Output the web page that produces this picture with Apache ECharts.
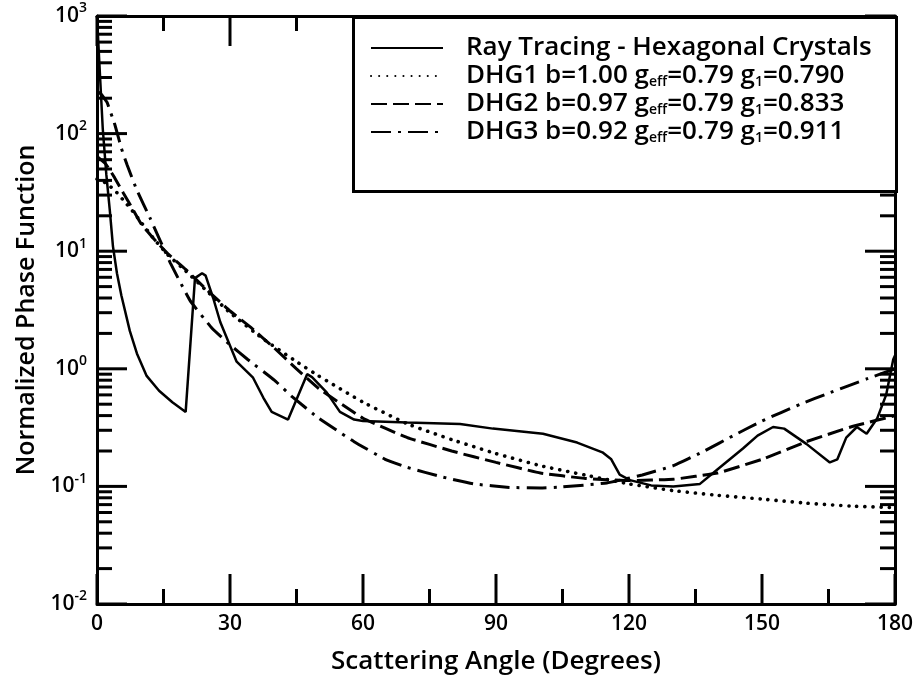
<!DOCTYPE html>
<html>
<head>
<meta charset="utf-8">
<script src="https://cdn.jsdelivr.net/npm/echarts@6/dist/echarts.min.js"></script>
<style>html,body{margin:0;padding:0;background:#fff}#c{width:917px;height:680px}</style>
</head>
<body>
<div id="c"></div>
<script>
// ---- data ----
const xMajorTicks = [0, 30, 60, 90, 120, 150, 180];
const xMinorTicks = [15, 45, 75, 105, 135, 165];
const yMajorTicks = [0.01, 0.1, 1, 10, 100, 1000];
const yMinorSteps = [2, 3, 4, 5, 6, 7, 8, 9];

const rtAngle = [0, 0.5, 1.3, 2.1, 2.9, 3.6, 4.5, 5.5, 7.4, 9, 11.2, 14, 17, 20, 22.1, 23.7, 24.5, 26.2, 27.8, 31.5, 35.2, 37.5, 39.4, 43.1, 47.4, 48.5, 51.8, 54.8, 58, 60, 70, 81.9, 89.3, 100.6, 108.3, 114, 116, 117.9, 120.2, 125, 130, 136, 140, 145.7, 149, 152.5, 155, 160, 165.3, 167, 169, 171.4, 173.6, 176, 178, 179.6, 180];
const rtValue = [1000, 420, 110, 45, 22, 11, 6.5, 4.2, 2.1, 1.35, 0.87, 0.65, 0.52, 0.43, 5.9, 6.5, 6.2, 4.0, 2.5, 1.15, 0.84, 0.57, 0.43, 0.37, 0.9, 0.85, 0.63, 0.43, 0.37, 0.36, 0.35, 0.34, 0.31, 0.28, 0.236, 0.195, 0.17, 0.126, 0.113, 0.102, 0.1, 0.105, 0.14, 0.21, 0.27, 0.32, 0.31, 0.23, 0.16, 0.17, 0.26, 0.32, 0.28, 0.38, 0.6, 1.2, 1.3];

const dhg1Angle = [0, 2, 4, 6, 8, 10, 13, 16, 20, 25, 30, 37, 45, 50, 60, 70, 80, 90, 100, 110, 120, 130, 140, 150, 160, 170, 180];
const dhg1Value = [41, 38, 33, 27, 22, 17.5, 12.5, 9.3, 6.8, 4.5, 3.0, 1.85, 1.15, 0.87, 0.52, 0.34, 0.25, 0.19, 0.15, 0.125, 0.105, 0.092, 0.084, 0.078, 0.072, 0.068, 0.066];

const dhg2Angle = [0, 2, 4, 6, 8, 10, 13, 16, 20, 25, 30, 35, 40, 45, 50, 60, 70, 80, 90, 100, 110, 120, 130, 140, 150, 160, 170, 180];
const dhg2Value = [64, 55, 42, 31, 23, 17, 12.5, 9.5, 7.0, 4.6, 3.1, 2.2, 1.5, 1.0, 0.68, 0.38, 0.26, 0.2, 0.16, 0.13, 0.117, 0.112, 0.115, 0.13, 0.17, 0.24, 0.32, 0.4];

const dhg3Angle = [0, 1, 2.25, 4, 5.5, 6.8, 9, 12, 16.5, 21, 26, 30, 34, 40, 44, 50, 58, 65, 70, 78, 85, 93, 100, 105, 115, 123, 130, 137, 143.5, 150, 158.6, 165, 173.6, 180];
const dhg3Value = [230, 215, 185, 120, 75, 54, 33, 19, 8, 3.8, 2.2, 1.6, 1.2, 0.8, 0.58, 0.38, 0.24, 0.17, 0.145, 0.12, 0.105, 0.098, 0.097, 0.099, 0.107, 0.125, 0.15, 0.2, 0.27, 0.36, 0.5, 0.62, 0.82, 1.0];

const seriesNames = [
  'Ray Tracing - Hexagonal Crystals',
  'DHG1 b=1.00 geff=0.79 g1=0.790',
  'DHG2 b=0.97 geff=0.79 g1=0.833',
  'DHG3 b=0.92 geff=0.79 g1=0.911'
];
const legendRich = [
  '{t|Ray Tracing - Hexagonal Crystals}',
  '{t|DHG1 b=1.00 g}{sub|eff}{t|=0.79 g}{sub|1}{t|=0.790}',
  '{t|DHG2 b=0.97 g}{sub|eff}{t|=0.79 g}{sub|1}{t|=0.833}',
  '{t|DHG3 b=0.92 g}{sub|eff}{t|=0.79 g}{sub|1}{t|=0.911}'
];

// ---- build ----
const zip = (a, b) => a.map((x, i) => [x, b[i]]);
const yMinorTicks = [];
yMajorTicks.slice(0, -1).forEach(d => yMinorSteps.forEach(k => yMinorTicks.push(k * d)));

const FONT = 'Open Sans';
const black = '#000';
const chart = echarts.init(document.getElementById('c'), null, { renderer: 'canvas' });

function tickLine(x1, y1, x2, y2) {
  return { type: 'line', shape: { x1, y1, x2, y2 }, style: { stroke: '#000000', lineWidth: 3 } };
}
function xTickRenderer(len) {
  return function (params, api) {
    const x = api.value(0);
    const b = api.coord([x, 0.01]);
    const t = api.coord([x, 1000]);
    return { type: 'group', children: [tickLine(b[0], b[1], b[0], b[1] - len), tickLine(t[0], t[1], t[0], t[1] + len)] };
  };
}
function yTickRenderer(len) {
  return function (params, api) {
    const y = api.value(1);
    const l = api.coord([0, y]);
    const r = api.coord([180, y]);
    return { type: 'group', children: [tickLine(l[0], l[1], l[0] + len, l[1]), tickLine(r[0], r[1], r[0] - len, r[1])] };
  };
}
const tickSeries = (data, renderItem) => ({
  type: 'custom', data, renderItem, xAxisIndex: 0, yAxisIndex: 0, zlevel: 1, z: 3, silent: true, clip: false
});

const axisLineStyle = { color: black, width: 3 };
const option = {
  backgroundColor: '#fff',
  animation: false,
  grid: { left: 97, right: 22, top: 16, bottom: 73, containLabel: false },
  xAxis: [
    {
      type: 'value', min: 0, max: 180, interval: 30, position: 'bottom',
      axisLine: { show: true, onZero: false, lineStyle: axisLineStyle },
      axisTick: { show: false }, splitLine: { show: false },
      name: 'Scattering Angle (Degrees)', nameLocation: 'middle', nameGap: 45,
      nameTextStyle: { fontFamily: FONT, fontSize: 26, fontWeight: 600, color: black },
      axisLabel: { show: true, margin: 10, fontFamily: FONT, fontSize: 21, fontWeight: 600, color: black }
    },
    {
      type: 'value', min: 0, max: 180, interval: 30, position: 'top',
      axisLine: { show: true, onZero: false, lineStyle: axisLineStyle },
      axisTick: { show: false }, axisLabel: { show: false }, splitLine: { show: false }
    }
  ],
  yAxis: [
    {
      type: 'log', logBase: 10, min: 0.01, max: 1000, position: 'left',
      axisLine: { show: true, onZero: false, lineStyle: axisLineStyle },
      axisTick: { show: false }, splitLine: { show: false },
      name: 'Normalized Phase Function', nameLocation: 'middle', nameGap: 52, nameRotate: 90,
      nameTextStyle: { fontFamily: FONT, fontSize: 25, fontWeight: 600, color: black },
      axisLabel: {
        show: true, margin: 10,
        formatter: v => '{b|10}{s|' + Math.round(Math.log10(v)) + '}',
        rich: {
          b: { fontFamily: FONT, fontSize: 21, fontWeight: 600, color: black },
          s: { fontFamily: FONT, fontSize: 14, fontWeight: 600, color: black, padding: [0, 0, 15, 0] }
        }
      }
    },
    {
      type: 'log', logBase: 10, min: 0.01, max: 1000, position: 'right',
      axisLine: { show: true, onZero: false, lineStyle: axisLineStyle },
      axisTick: { show: false }, axisLabel: { show: false }, splitLine: { show: false }
    }
  ],
  legend: {
    show: true, orient: 'vertical', left: 370, top: 34,
    itemWidth: 72, itemHeight: 28, itemGap: 0,
    padding: 0, zlevel: 1, z: 10,
    data: seriesNames,
    itemStyle: { opacity: 0 },
    formatter: name => legendRich[seriesNames.indexOf(name)],
    textStyle: {
      padding: [0, 0, 0, 18],
      lineHeight: 28,
      rich: {
        t: { fontFamily: FONT, fontSize: 26, fontWeight: 600, color: black, lineHeight: 28 },
        sub: { fontFamily: FONT, fontSize: 14, fontWeight: 600, color: black, padding: [13, 0, 0, 0], lineHeight: 28 }
      }
    }
  },
  graphic: {
    elements: [{
      type: 'rect', left: 352, top: 16, zlevel: 1, z: 8,
      shape: { width: 543, height: 174 },
      style: { fill: '#fff', stroke: black, lineWidth: 3 }
    }]
  },
  series: [
    { name: seriesNames[0], type: 'line', data: zip(rtAngle, rtValue), showSymbol: false, symbol: 'none',
      lineStyle: { color: black, width: 2.5 }, z: 5 },
    { name: seriesNames[1], type: 'line', data: zip(dhg1Angle, dhg1Value), showSymbol: false, symbol: 'none',
      smooth: 0.1,
      lineStyle: { color: black, width: 3.6, type: [0.1, 8], cap: 'round' } },
    { name: seriesNames[2], type: 'line', data: zip(dhg2Angle, dhg2Value), showSymbol: false, symbol: 'none',
      smooth: 0.1,
      lineStyle: { color: black, width: 3, type: [16, 6] } },
    { name: seriesNames[3], type: 'line', data: zip(dhg3Angle, dhg3Value), showSymbol: false, symbol: 'none',
      smooth: 0.1,
      lineStyle: { color: black, width: 3, type: [20, 7, 3, 7] } },
    tickSeries(xMajorTicks.map(x => [x, 1]), xTickRenderer(30)),
    tickSeries(xMinorTicks.map(x => [x, 1]), xTickRenderer(15)),
    tickSeries(yMajorTicks.map(y => [90, y]), yTickRenderer(30)),
    tickSeries(yMinorTicks.map(y => [90, y]), yTickRenderer(15))
  ]
};
chart.setOption(option);
</script>
</body>
</html>
